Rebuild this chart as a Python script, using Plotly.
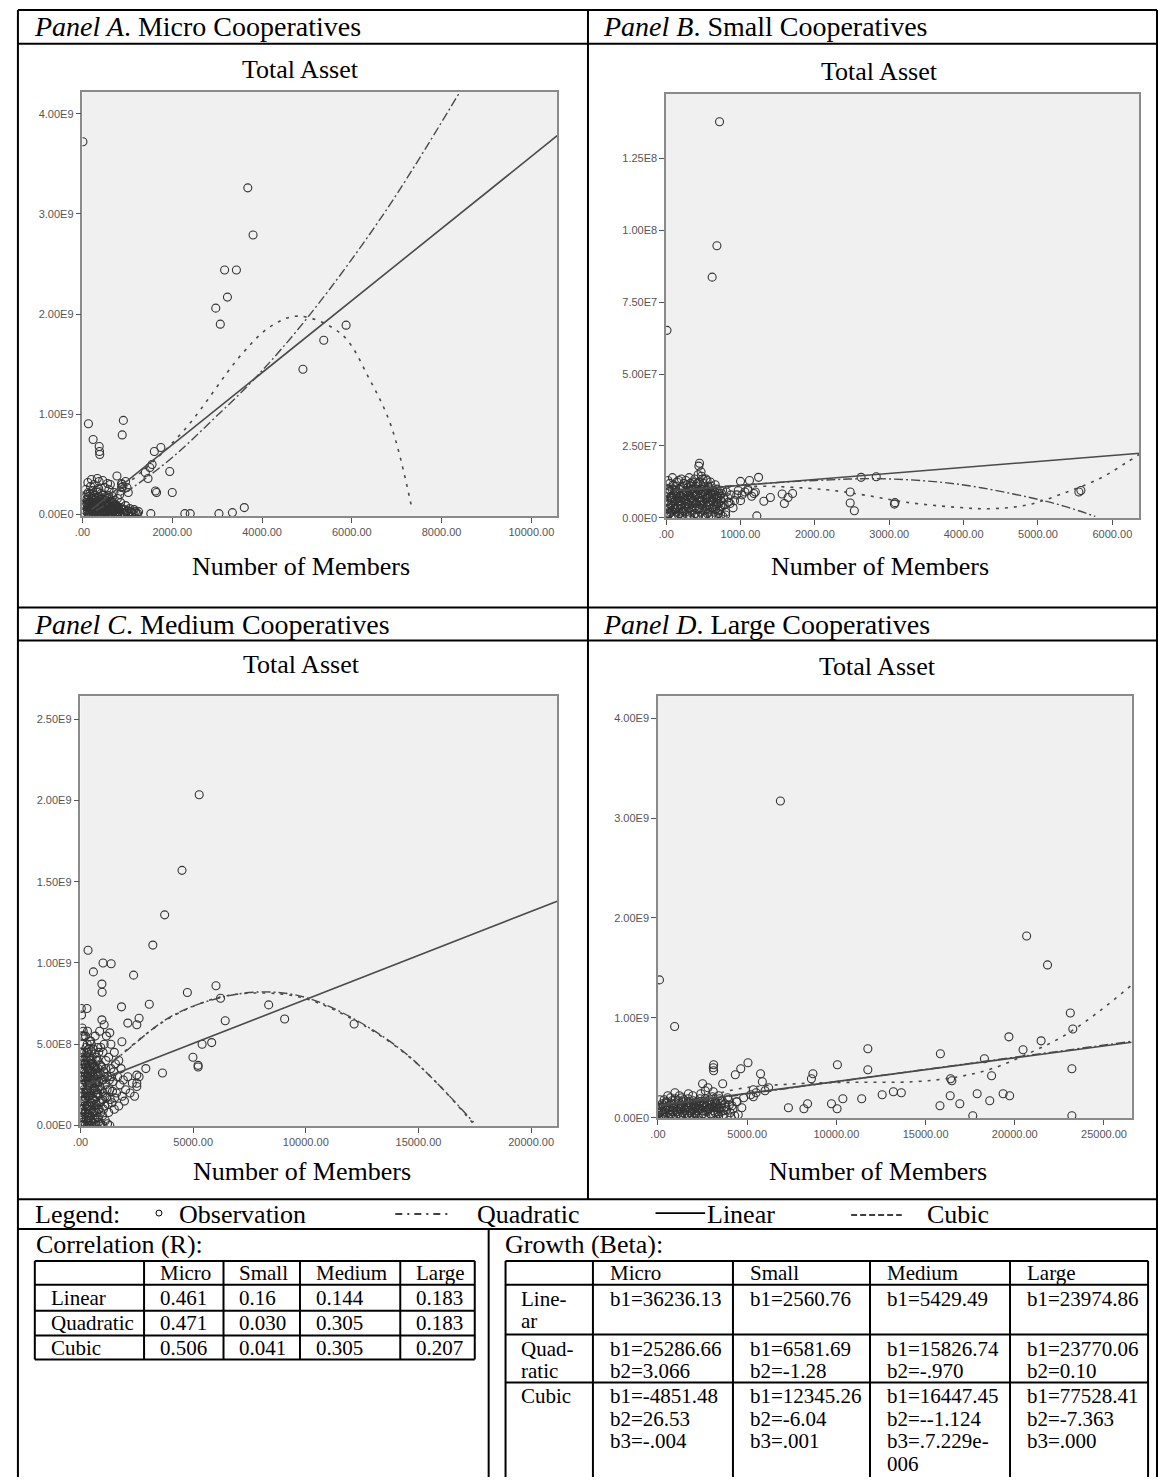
import plotly.graph_objects as go

W, H = 1158, 1483

# ---------------- data ----------------
# Panel A: Micro cooperatives  (x = members, y = total asset in 1e9)
A_obs = [(10,3.72),(3683,3.26),(3800,2.79),(3166,2.44),(3429,2.44),(3229,2.17),(2969,2.06),(3070,1.90),
         (5873,1.89),(5375,1.74),(4911,1.45),(911,0.94),(885,0.795),(133,0.906),(237,0.75),(372,0.68),
         (380,0.63),(385,0.60),(1601,0.63),(1746,0.67),(1944,0.43),(1400,0.42),(1460,0.36),(1626,0.236),
         (1650,0.22),(2000,0.22),(768,0.385),(880,0.30),(870,0.27),(1522,0.01),(2280,0.01),(2400,0.01),
         (3040,0.01),(3340,0.02),(3605,0.07),(1500,0.47),(1550,0.50)]
A_cluster = [(40,0.02),(60,0.08),(90,0.15),(110,0.05),(130,0.22),(140,0.01),(160,0.12),(180,0.28),(190,0.06),
             (210,0.18),(230,0.03),(250,0.10),(260,0.30),(280,0.14),(300,0.02),(310,0.24),(330,0.07),(350,0.17),
             (370,0.33),(380,0.04),(400,0.11),(420,0.21),(440,0.01),(460,0.08),(480,0.15),(500,0.27),(520,0.05),
             (540,0.12),(560,0.03),(580,0.19),(600,0.09),(620,0.30),(640,0.02),(660,0.13),(680,0.06),(700,0.22),
             (720,0.04),(740,0.10),(760,0.01),(780,0.16),(800,0.07),(820,0.03),(850,0.12),(880,0.05),(900,0.28),
             (930,0.02),(960,0.09),(1000,0.04),(1050,0.06),(1100,0.02),(1150,0.05),(1200,0.01),(1250,0.03),
             (120,0.32),(200,0.35),(330,0.36),(450,0.34),(560,0.31),(150,0.0),(250,0.0),(350,0.01),(450,0.0),
             (550,0.0),(650,0.01),(750,0.0),(70,0.25),(100,0.10),(170,0.04),(240,0.20),(290,0.08),(360,0.26),
             (430,0.16),(510,0.09),(590,0.25),(670,0.18),(830,0.20),(990,0.27),(1020,0.22),(870,0.31),(960,0.33),
             (200,0.05),(270,0.02),(320,0.12),(390,0.07),(470,0.03),(530,0.18),(610,0.05),(690,0.11),(770,0.06)]
A_core = [(45,0.1),(55,0.17),(65,0.04),(85,0.12),(95,0.2),(105,0.02),(115,0.14),(125,0.08),(135,0.18),
          (145,0.11),(155,0.06),(165,0.21),(175,0.13),(185,0.02),(195,0.1),(205,0.16),(215,0.07),(225,0.24),
          (235,0.12),(245,0.05),(255,0.15),(265,0.09),(275,0.19),(285,0.03),(295,0.12),(305,0.06),(315,0.16),
          (325,0.1),(335,0.22),(345,0.04),(355,0.13),(365,0.08),(375,0.18),(385,0.02),(395,0.15),(405,0.06),
          (415,0.1),(425,0.03),(435,0.13),(445,0.07),(455,0.19),(465,0.11),(475,0.04),(485,0.09),(495,0.02),
          (505,0.14),(515,0.07),(525,0.11),(535,0.03),(545,0.08),(555,0.16),(565,0.06),(575,0.1),(585,0.02),
          (595,0.13),(605,0.05),(615,0.08),(625,0.15),(635,0.04),(645,0.09),(655,0.02),(665,0.07),(675,0.12),
          (685,0.03),(695,0.06),(710,0.09),(725,0.02),(745,0.05),(765,0.08),(790,0.02),(810,0.05),(840,0.01),
          (860,0.07),(890,0.02),(920,0.05),(950,0.01),(980,0.03),(1010,0.01),(1080,0.03),(1130,0.01),
          (1180,0.03),(1230,0.01)]
A_lin_x = [200, 10575]
A_lin_y = [0.05, 3.78]
A_quad_x = [300, 1166, 2000, 2911, 3865, 5057, 6725, 8384]
A_quad_y = [0.04, 0.285, 0.57, 0.95, 1.37, 1.99, 3.01, 4.20]
A_cub_x = [300, 1300, 2279, 3548, 4200, 4818, 5771, 6406, 6879, 7344]
A_cub_y = [0.08, 0.42, 0.85, 1.60, 1.88, 1.98, 1.80, 1.34, 0.88, 0.05]

# Panel B: Small cooperatives  (y in 1e7)
B_obs = [(718,13.77),(683,9.46),(619,8.37),(12,6.52),(449,1.90),(440,1.80),(1243,1.41),(1000,1.27),
         (1121,1.30),(2622,1.41),(2825,1.43),(1560,0.83),(1640,0.71),(1314,0.58),(1402,0.71),(1590,0.50),
         (2475,0.90),(2475,0.52),(2531,0.25),(3070,0.48),(3077,0.53),(5577,0.95),(5550,0.90),(1220,0.07),
         (800,0.10),(1700,0.85),(1100,1.00),(1200,0.90)]
B_cluster = [(20,0.3),(30,0.9),(40,0.5),(50,1.2),(60,0.2),(70,0.7),(80,1.0),(90,0.4),(100,0.8),(110,0.1),
             (120,0.6),(130,1.1),(140,0.35),(150,0.9),(160,0.55),(170,1.3),(180,0.15),(190,0.75),(200,1.05),
             (210,0.45),(220,0.85),(230,0.25),(240,1.2),(250,0.65),(260,0.95),(270,0.3),(280,1.15),(290,0.5),
             (300,0.8),(310,1.4),(320,0.2),(330,0.7),(340,1.0),(350,0.4),(360,1.25),(370,0.6),(380,0.9),
             (390,0.15),(400,1.1),(410,0.5),(420,0.8),(430,1.5),(440,0.3),(450,0.7),(460,1.0),(470,1.6),
             (480,0.45),(490,0.85),(500,1.2),(510,0.25),(520,0.65),(530,0.95),(540,0.4),(550,1.3),(560,0.75),
             (570,0.2),(580,1.05),(590,0.55),(600,0.9),(620,0.35),(640,0.7),(660,1.15),(680,0.5),(700,0.85),
             (720,0.3),(740,0.6),(760,0.95),(780,0.45),(800,0.2),(830,0.7),(860,0.5),(900,0.35),(950,0.8),
             (1000,0.6),(15,0.05),(45,0.15),(75,0.25),(105,0.05),(135,0.2),(165,0.1),(195,0.3),(225,0.05),
             (255,0.2),(285,0.1),(315,0.05),(345,0.25),(375,0.1),(405,0.3),(435,0.05),(465,0.2),(495,0.1),
             (525,0.05),(555,0.15),(585,0.3),(615,0.1),(645,0.2),(675,0.05),(705,0.15),(735,0.1),(765,0.05),
             (25,1.3),(55,0.7),(85,1.4),(115,0.95),(145,1.25),(175,0.6),(205,1.35),(235,0.8),(265,1.3),
             (295,1.05),(325,1.2),(355,0.85),(385,1.35),(415,1.2),(445,1.25),(475,1.45),(505,0.9),(535,1.35),
             (565,1.1),(595,1.25),(625,0.9),(655,0.8),(685,1.0),(715,0.75),(745,0.85),(775,0.7),(810,0.9),
             (840,0.55),(870,0.8),(920,0.6),(970,0.95),(1020,0.8),(1060,0.9),(1100,0.95),(1150,0.75),(1180,0.85)]
B_core = [(10,0.6),(35,1.0),(65,0.45),(95,1.15),(125,0.3),(155,0.7),(185,1.0),(215,0.2),(245,0.6),(275,0.9),
          (305,0.35),(335,1.1),(365,0.5),(395,0.8),(425,1.2),(455,0.35),(485,0.6),(515,1.0),(545,0.7),
          (575,0.45),(605,1.1),(635,0.55),(665,0.3),(695,0.7),(725,0.95),(755,0.4),(15,0.85),(45,0.35),
          (75,0.75),(105,0.55),(135,0.95),(165,0.4),(195,0.6),(225,1.1),(255,0.4),(285,0.75),(315,0.95),
          (345,0.55),(375,0.75),(405,0.5),(435,0.95),(465,0.55),(495,1.35),(525,0.8),(555,0.55),(585,0.8),
          (615,0.6),(645,0.95),(675,0.75),(705,0.5),(735,0.4),(5,0.15),(20,0.45),(50,0.95),(80,0.6),(110,0.3),
          (140,0.75),(170,0.85),(200,0.45),(230,0.7),(260,0.5),(290,0.9),(320,0.6),(350,0.7),(380,0.35),
          (410,1.0),(440,0.6),(470,0.85),(500,0.5),(530,0.3),(560,0.95),(590,0.7),(620,0.8),(650,0.4),
          (680,0.65),(710,0.25)]
B_lin_x = [100, 6370]
B_lin_y = [0.94, 2.25]
B_quad_x = [100, 1000, 2000, 2900, 3900, 4870, 5360, 5770]
B_quad_y = [0.95, 1.14, 1.30, 1.36, 1.18, 0.72, 0.40, 0.05]
B_cub_x = [100, 1100, 2143, 2678, 3213, 3895, 4384, 4871, 5357, 5847, 6187, 6370]
B_cub_y = [0.90, 1.10, 0.98, 0.79, 0.55, 0.37, 0.32, 0.46, 0.87, 1.39, 1.92, 2.22]

# Panel C: Medium cooperatives (y in 1e9)
C_obs = [(5268,2.035),(4506,1.57),(3735,1.296),(3211,1.11),(335,1.078),(1000,1.0),(1361,0.995),(573,0.945),
         (2357,0.925),(950,0.87),(960,0.82),(6013,0.86),(4744,0.818),(3053,0.746),(1820,0.73),(286,0.72),
         (6216,0.783),(8352,0.742),(9061,0.655),(12145,0.624),(6423,0.644),(2600,0.66),(2500,0.62),(2100,0.63),
         (950,0.65),(1300,0.57),(1050,0.62),(1838,0.515),(5398,0.50),(5823,0.51),(4991,0.42),(5220,0.37),
         (5220,0.36),(3639,0.323),(2900,0.35),(2500,0.31),(2500,0.26)]
C_cluster = [(20,0.05),(40,0.2),(60,0.35),(80,0.1),(100,0.5),(120,0.25),(140,0.02),(160,0.4),(180,0.15),
             (200,0.3),(220,0.55),(240,0.08),(260,0.22),(280,0.45),(300,0.12),(320,0.35),(340,0.03),(360,0.28),
             (380,0.18),(400,0.42),(420,0.06),(440,0.32),(460,0.2),(480,0.5),(500,0.1),(520,0.26),(540,0.38),
             (560,0.04),(580,0.16),(600,0.3),(620,0.44),(640,0.09),(660,0.22),(680,0.35),(700,0.13),(720,0.27),
             (740,0.05),(760,0.4),(780,0.19),(800,0.31),(830,0.1),(860,0.24),(890,0.37),(920,0.15),(950,0.28),
             (980,0.06),(1010,0.2),(1040,0.33),(1070,0.12),(1100,0.25),(1130,0.4),(1160,0.17),(1200,0.3),
             (1250,0.08),(1300,0.22),(1350,0.35),(1400,0.14),(1450,0.27),(1500,0.1),(1550,0.38),(1600,0.2),
             (1650,0.3),(1700,0.12),(1750,0.25),(1800,0.35),(1850,0.18),(1900,0.28),(1950,0.15),(2000,0.22),
             (2100,0.3),(2200,0.2),(2300,0.26),(2400,0.18),(2500,0.24),(2600,0.3),
             (30,0.45),(70,0.6),(90,0.28),(110,0.15),(150,0.55),(170,0.33),(190,0.07),(230,0.38),(250,0.48),
             (270,0.12),(290,0.3),(310,0.58),(330,0.2),(350,0.1),(370,0.47),(390,0.25),(410,0.36),(430,0.14),
             (450,0.52),(470,0.3),(490,0.02),(510,0.41),(530,0.17),(550,0.3),(570,0.47),(590,0.08),(610,0.23),
             (630,0.36),(650,0.55),(670,0.02),(690,0.26),(710,0.42),(730,0.2),(750,0.33),(770,0.48),(790,0.1),
             (810,0.45),(850,0.58),(900,0.48),(1000,0.45),(1050,0.5),(1150,0.55),(1250,0.42),(1350,0.5),
             (1500,0.45),(1700,0.4),(10,0.12),(15,0.3),(25,0.0),(50,0.02),(75,0.0),(130,0.0),(210,0.0),
             (300,0.0),(400,0.0),(500,0.0),(600,0.01),(700,0.0),(800,0.02),(900,0.01),(1000,0.0),(1100,0.03),
             (1200,0.01),(1300,0.0),(35,0.72),(45,0.68),(80,0.55),(120,0.58),(300,0.5),(420,0.52),(480,0.46)]
C_core = [(5,0.2),(12,0.4),(18,0.08),(28,0.33),(38,0.15),(48,0.45),(58,0.25),(68,0.05),(78,0.38),(88,0.18),
          (98,0.3),(108,0.42),(118,0.1),(128,0.35),(138,0.22),(148,0.05),(158,0.28),(168,0.45),(178,0.12),
          (188,0.38),(198,0.2),(208,0.08),(218,0.32),(228,0.17),(238,0.42),(248,0.27),(258,0.04),(268,0.36),
          (278,0.2),(288,0.12),(298,0.4),(308,0.25),(318,0.07),(328,0.3),(338,0.45),(348,0.18),(358,0.05),
          (368,0.35),(378,0.25),(388,0.12),(398,0.3),(408,0.2),(418,0.38),(428,0.09),(438,0.26),(448,0.4),
          (458,0.14),(468,0.03),(478,0.33),(488,0.22),(498,0.38),(518,0.14),(538,0.28),(558,0.2),(578,0.36),
          (598,0.12),(618,0.26),(638,0.04),(658,0.32),(678,0.15),(698,0.4),(718,0.08),(738,0.3),(758,0.22),
          (778,0.35),(798,0.05),(820,0.27),(845,0.14),(870,0.32),(895,0.08),(920,0.22),(945,0.36),(970,0.16),
          (995,0.28),(1020,0.1),(1060,0.3),(1090,0.18),(1120,0.35),(1180,0.22),(1220,0.13),(1280,0.28),
          (1320,0.16),(1380,0.3),(1420,0.21),(1480,0.33),(1520,0.17)]
C_lin_x = [300, 21157]
C_lin_y = [0.25, 1.38]
C_quad_x = [300, 1000, 1951, 4004, 6216, 8158, 10013, 12215, 14286, 15862, 17445]
C_quad_y = [0.24, 0.34, 0.45, 0.67, 0.787, 0.822, 0.787, 0.65, 0.46, 0.255, 0.02]
C_cub_x = [300, 1000, 2000, 4000, 6200, 8200, 10000, 12200, 14300, 15900, 17500]
C_cub_y = [0.22, 0.33, 0.46, 0.665, 0.79, 0.815, 0.78, 0.645, 0.455, 0.25, 0.0]

# Panel D: Large cooperatives (y in 1e9)
D_obs = [(6862,3.17),(20663,1.82),(21835,1.53),(83,1.38),(933,0.914),(23113,1.048),(23253,0.888),
         (19670,0.81),(21475,0.77),(20463,0.68),(18297,0.59),(15830,0.64),(11763,0.69),(11763,0.48),
         (10057,0.53),(23200,0.49),(18700,0.42),(16472,0.37),(16400,0.39),(17890,0.24),(19346,0.24),
         (19712,0.22),(16380,0.22),(18596,0.17),(15806,0.12),(16918,0.14),(17646,0.02),(23200,0.02),
         (13196,0.26),(13640,0.25),(12567,0.23),(11418,0.19),(10363,0.19),(9725,0.14),(10040,0.09),
         (7312,0.10),(8180,0.09),(8385,0.14),(8685,0.44),(8600,0.39),(5045,0.55),(4640,0.49),(4334,0.43),
         (5750,0.44),(5850,0.36),(3628,0.34),(3122,0.53),(3122,0.47),(3100,0.50),(5345,0.28),(5345,0.21),
         (4433,0.16),(1706,0.24),(2500,0.34)]
D_cluster = [(50,0.05),(150,0.12),(250,0.02),(350,0.18),(450,0.08),(550,0.22),(650,0.04),(750,0.14),
             (850,0.1),(950,0.25),(1050,0.06),(1150,0.17),(1250,0.03),(1350,0.2),(1450,0.11),(1550,0.07),
             (1650,0.15),(1750,0.02),(1850,0.12),(1950,0.22),(2050,0.05),(2150,0.16),(2250,0.09),(2350,0.19),
             (2450,0.03),(2550,0.13),(2650,0.27),(2750,0.08),(2850,0.17),(2950,0.04),(3050,0.21),(3150,0.11),
             (3250,0.15),(3350,0.06),(3450,0.19),(3550,0.1),(3650,0.03),(3750,0.14),(3850,0.08),(3950,0.18),
             (4050,0.05),(4150,0.12),(4300,0.02),(100,0.18),(200,0.08),(300,0.12),(400,0.03),(500,0.15),
             (600,0.1),(700,0.2),(800,0.06),(900,0.14),(1000,0.02),(1100,0.11),(1200,0.22),(1300,0.09),
             (1400,0.16),(1500,0.04),(1600,0.1),(1700,0.19),(1800,0.07),(1900,0.03),(2000,0.14),(2100,0.1),
             (2200,0.02),(2300,0.12),(2400,0.24),(2500,0.07),(2600,0.15),(2700,0.11),(2800,0.3),(2900,0.09),
             (3000,0.13),(3100,0.26),(3200,0.05),(3300,0.1),(3400,0.22),(3500,0.14),(3600,0.17),(3700,0.07),
             (3800,0.11),(3900,0.2),(4000,0.13),(4200,0.09),(4400,0.16),(0,0.1),(30,0.0),(120,0.0),(600,0.0),
             (1300,0.0),(2000,0.0),(2700,0.0),(3400,0.01),(4100,0.0),(4500,0.03),(4700,0.1),(4800,0.2),
             (5200,0.23),(5500,0.25),(6000,0.27),(6200,0.3)]
D_core = [(20,0.04),(80,0.1),(160,0.06),(240,0.14),(320,0.02),(380,0.09),(460,0.16),(520,0.05),(580,0.12),
          (660,0.08),(720,0.03),(780,0.17),(840,0.06),(920,0.11),(980,0.19),(1040,0.08),(1120,0.04),(1180,0.14),
          (1240,0.09),(1320,0.12),(1380,0.05),(1440,0.18),(1520,0.09),(1580,0.13),(1640,0.03),(1720,0.1),
          (1780,0.15),(1840,0.05),(1920,0.09),(1980,0.17),(2040,0.11),(2120,0.04),(2180,0.13),(2240,0.07),
          (2320,0.16),(2380,0.09),(2440,0.12),(2520,0.04),(2580,0.1),(2640,0.19),(2720,0.06),(2780,0.13),
          (2840,0.09),(2920,0.18),(2980,0.03),(3040,0.11),(3120,0.07),(3180,0.16),(3240,0.1),(3320,0.13),
          (3380,0.04),(3440,0.09),(3520,0.06)]
D_lin_x = [200, 26552]
D_lin_y = [0.13, 0.755]
D_quad_x = [200, 13000, 26552]
D_quad_y = [0.12, 0.435, 0.765]
D_cub_x = [200, 2000, 4540, 7780, 11000, 14250, 16670, 18700, 20725, 22745, 24770, 26490]
D_cub_y = [0.05, 0.17, 0.29, 0.34, 0.355, 0.36, 0.405, 0.49, 0.64, 0.82, 1.07, 1.32]

# tick labels
A_xtick_vals = [0, 2000, 4000, 6000, 8000, 10000]
A_xtick_text = ['.00', '2000.00', '4000.00', '6000.00', '8000.00', '10000.00']
A_ytick_vals = [0, 1e9, 2e9, 3e9, 4e9]
A_ytick_text = ['0.00E0', '1.00E9', '2.00E9', '3.00E9', '4.00E9']
B_xtick_vals = [0, 1000, 2000, 3000, 4000, 5000, 6000]
B_xtick_text = ['.00', '1000.00', '2000.00', '3000.00', '4000.00', '5000.00', '6000.00']
B_ytick_vals = [0, 2.5e7, 5e7, 7.5e7, 1e8, 1.25e8]
B_ytick_text = ['0.00E0', '2.50E7', '5.00E7', '7.50E7', '1.00E8', '1.25E8']
C_xtick_vals = [0, 5000, 10000, 15000, 20000]
C_xtick_text = ['.00', '5000.00', '10000.00', '15000.00', '20000.00']
C_ytick_vals = [0, 5e8, 1e9, 1.5e9, 2e9, 2.5e9]
C_ytick_text = ['0.00E0', '5.00E8', '1.00E9', '1.50E9', '2.00E9', '2.50E9']
D_xtick_vals = [0, 5000, 10000, 15000, 20000, 25000]
D_xtick_text = ['.00', '5000.00', '10000.00', '15000.00', '20000.00', '25000.00']
D_ytick_vals = [0, 1e9, 2e9, 3e9, 4e9]
D_ytick_text = ['0.00E0', '1.00E9', '2.00E9', '3.00E9', '4.00E9']

# tables
R_cols = ['Micro', 'Small', 'Medium', 'Large']
R_rows = ['Linear', 'Quadratic', 'Cubic']
R_vals = [['0.461', '0.16', '0.144', '0.183'],
          ['0.471', '0.030', '0.305', '0.183'],
          ['0.506', '0.041', '0.305', '0.207']]
G_cols = ['Micro', 'Small', 'Medium', 'Large']
G_rows = [['Line-', 'ar'], ['Quad-', 'ratic'], ['Cubic']]
G_vals = [[['b1=36236.13'], ['b1=2560.76'], ['b1=5429.49'], ['b1=23974.86']],
          [['b1=25286.66', 'b2=3.066'], ['b1=6581.69', 'b2=-1.28'], ['b1=15826.74', 'b2=-.970'], ['b1=23770.06', 'b2=0.10']],
          [['b1=-4851.48', 'b2=26.53', 'b3=-.004'], ['b1=12345.26', 'b2=-6.04', 'b3=.001'],
           ['b1=16447.45', 'b2=--1.124', 'b3=.7.229e-', '006'], ['b1=77528.41', 'b2=-7.363', 'b3=.000']]]

# ---------------- figure ----------------
SERIF = 'Liberation Serif'
SANS = 'Liberation Sans'
LINE_COL = '#4a4a4a'
MARK_COL = '#333333'


def fx(p):
    return p / W


def fy(p):
    return 1 - p / H


fig = go.Figure()

panels = [
    ('', A_obs + A_cluster + A_core, 1e9, (A_lin_x, A_lin_y), (A_quad_x, A_quad_y), (A_cub_x, A_cub_y),
     (75, 553), (92, 518), [0, 10575], [-0.013e9, 4.22e9],
     (A_xtick_vals, A_xtick_text, A_ytick_vals, A_ytick_text)),
    ('2', B_obs + B_cluster + B_core, 1e7, (B_lin_x, B_lin_y), (B_quad_x, B_quad_y), (B_cub_x, B_cub_y),
     (662.7, 1139), (94, 520), [0, 6360], [0, 14.75e7],
     (B_xtick_vals, B_xtick_text, B_ytick_vals, B_ytick_text)),
    ('3', C_obs + C_cluster + C_core, 1e9, (C_lin_x, C_lin_y), (C_quad_x, C_quad_y), (C_cub_x, C_cub_y),
     (73, 553), (699, 1131), [0, 21157], [-0.006e9, 2.642e9],
     (C_xtick_vals, C_xtick_text, C_ytick_vals, C_ytick_text)),
    ('4', D_obs + D_cluster + D_core, 1e9, (D_lin_x, D_lin_y), (D_quad_x, D_quad_y), (D_cub_x, D_cub_y),
     (654.5, 1131.5), (699, 1123), [0, 26552], [-0.007e9, 4.22e9],
     (D_xtick_vals, D_xtick_text, D_ytick_vals, D_ytick_text)),
]

for (n, pts, sc, lin, quad, cub, xd, yd, xr, yr, tk) in panels:
    xa = 'x' + n
    ya = 'y' + n
    fig.add_trace(go.Scatter(x=[p[0] for p in pts], y=[p[1] * sc for p in pts], mode='markers',
                             xaxis=xa, yaxis=ya, showlegend=False,
                             marker=dict(symbol='circle-open', size=8, color=MARK_COL, line=dict(width=1.1))))
    fig.add_trace(go.Scatter(x=quad[0], y=[v * sc for v in quad[1]], mode='lines', xaxis=xa, yaxis=ya,
                             showlegend=False, line=dict(color=LINE_COL, width=1.4, dash='9px,3px,2px,3px', shape='spline')))
    fig.add_trace(go.Scatter(x=cub[0], y=[v * sc for v in cub[1]], mode='lines', xaxis=xa, yaxis=ya,
                             showlegend=False, line=dict(color=LINE_COL, width=1.6, dash='3px,6px', shape='spline')))
    fig.add_trace(go.Scatter(x=lin[0], y=[v * sc for v in lin[1]], mode='lines', xaxis=xa, yaxis=ya,
                             showlegend=False, line=dict(color=LINE_COL, width=1.6)))
    axstyle = dict(showgrid=False, zeroline=False, showline=True, linecolor='#8a8a8a', linewidth=1.5,
                   mirror=True, ticks='outside', ticklen=5, tickcolor='#555', tickwidth=1,
                   tickfont=dict(family=SANS, size=11, color='#555'))
    fig.update_layout(**{
        ('xaxis' + n): dict(domain=[fx(xd[0]), fx(xd[1])], range=xr, anchor=ya,
                            tickvals=tk[0], ticktext=tk[1], **axstyle),
        ('yaxis' + n): dict(domain=[fy(yd[1]), fy(yd[0])], range=yr, anchor=xa,
                            tickvals=tk[2], ticktext=tk[3], **axstyle),
    })

shapes = []


def hline(x0, x1, y, w=2):
    shapes.append(dict(type='line', xref='paper', yref='paper', x0=fx(x0), x1=fx(x1), y0=fy(y), y1=fy(y),
                       line=dict(color='black', width=w)))


def vline(x, y0, y1, w=2):
    shapes.append(dict(type='line', xref='paper', yref='paper', x0=fx(x), x1=fx(x), y0=fy(y0), y1=fy(y1),
                       line=dict(color='black', width=w)))


# outer layout grid
for yy in [10, 44, 610, 643, 1204, 1234]:
    hline(10, 1157, yy)
vline(10, 10, 1483)
vline(1157, 10, 1483)
vline(584, 10, 1204)
vline(484, 1234, 1483)

# correlation table
R_xs = [27, 137, 217, 294, 395, 470]
R_ys = [1266, 1290, 1316, 1341, 1365]
for yy in R_ys:
    hline(R_xs[0], R_xs[-1], yy)
for xx in R_xs:
    vline(xx, R_ys[0], R_ys[-1])

# growth table
G_xs = [501, 589, 730, 868, 1009, 1148]
G_ys = [1266, 1290, 1340, 1388]
for yy in G_ys:
    hline(G_xs[0], G_xs[-1], yy)
for xx in G_xs:
    vline(xx, G_ys[0], 1483)

# legend symbols
shapes.append(dict(type='circle', xref='paper', yref='paper', x0=fx(149), x1=fx(155), y0=fy(1221), y1=fy(1215),
                   line=dict(color='black', width=1)))
shapes.append(dict(type='line', xref='paper', yref='paper', x0=fx(390), x1=fx(444), y0=fy(1219), y1=fy(1219),
                   line=dict(color='black', width=1.5, dash='7px,5px,2px,5px')))
shapes.append(dict(type='line', xref='paper', yref='paper', x0=fx(652), x1=fx(702), y0=fy(1218), y1=fy(1218),
                   line=dict(color='black', width=1.8)))
shapes.append(dict(type='line', xref='paper', yref='paper', x0=fx(849), x1=fx(900), y0=fy(1220), y1=fy(1220),
                   line=dict(color='black', width=1.5, dash='6px,3px')))

ann = []


def text(x, y, s, size=26, anchor='left', family=SERIF):
    ann.append(dict(x=fx(x), y=fy(y), xref='paper', yref='paper', text=s, showarrow=False,
                    xanchor=anchor, yanchor='middle', font=dict(family=family, size=size, color='black')))


text(24, 27, '<i>Panel A</i>. Micro Cooperatives', 28)
text(597, 27, '<i>Panel B</i>. Small Cooperatives', 28)
text(24, 627, '<i>Panel C</i>. Medium Cooperatives', 28)
text(597, 627, '<i>Panel D</i>. Large Cooperatives', 28)
for (cx, ty, by) in [(295, 70, 569), (878, 72, 569), (296, 667, 1176), (876, 669, 1176)]:
    text(cx, ty, 'Total Asset', 26, 'center')
    text(cx, by, 'Number of Members', 26, 'center')

text(25, 1219, 'Legend:', 26)
text(170, 1219, 'Observation', 26)
text(470, 1219, 'Quadratic', 26)
text(702, 1219, 'Linear', 26)
text(923, 1219, 'Cubic', 26)
text(26, 1250, 'Correlation (R):', 26)
text(498, 1250, 'Growth (Beta):', 26)

TS = 21
for j, c in enumerate(R_cols):
    text(R_xs[j + 1] + 14, 1278, c, TS)
for i, r in enumerate(R_rows):
    yc = (R_ys[i + 1] + R_ys[i + 2]) / 2
    text(R_xs[0] + 14, yc, r, TS)
    for j, v in enumerate(R_vals[i]):
        text(R_xs[j + 1] + 14, yc, v, TS)

for j, c in enumerate(G_cols):
    text(G_xs[j + 1] + 15, 1278, c, TS)
for i, r in enumerate(G_rows):
    top = G_ys[i + 1]
    for k, s in enumerate(r):
        text(G_xs[0] + 14, top + 14 + 22.5 * k, s, TS)
    for j, cell in enumerate(G_vals[i]):
        for k, s in enumerate(cell):
            text(G_xs[j + 1] + 15, top + 14 + 22.5 * k, s, TS)

fig.update_layout(width=W, height=H, margin=dict(l=0, r=0, t=0, b=0),
                  paper_bgcolor='white', plot_bgcolor='#f0f0f0', shapes=shapes, annotations=ann,
                  showlegend=False)

# remove the browser's default page margin so the figure sits at the window's top-left corner
fig.write_html('out.html', config={'displayModeBar': False},
               post_script="document.body.style.margin='0';document.body.style.overflow='hidden';")
